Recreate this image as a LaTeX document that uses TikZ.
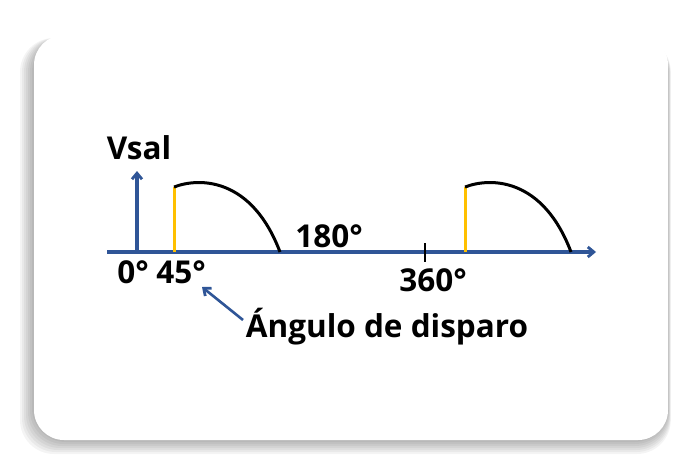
\documentclass[tikz,border=0pt]{standalone}
\usepackage{fontspec}
\setmainfont{Open Sans}
\usetikzlibrary{arrows.meta}
\definecolor{axblue}{HTML}{2F5597}
\definecolor{trig}{HTML}{FFC000}
\tikzset{
  axis/.style={draw=axblue, line width=3.4pt},
  hump/.style={draw=black, line width=3pt},
  trigline/.style={draw=trig, line width=3pt},
  lbl/.style={font=\fontsize{31.5}{34}\selectfont\bfseries, inner sep=0pt},
  tip/.style={-{Straight Barb[length=6pt,width=10pt,line width=2.8pt]}}
}
\begin{document}
\begin{tikzpicture}[x=1pt,y=-1pt]
\useasboundingbox (0,0) rectangle (700,474);
\fill[white] (0,0) rectangle (700,474);
% shadow of card
\foreach \i in {14,12,...,2}{
  \fill[black, opacity=0.045, rounded corners=34pt] (34-\i,38) rectangle (668+\i*0.2,440+\i);
}
\fill[white, rounded corners=30pt] (34,35) rectangle (668,440);
% axes
\coordinate (xa) at (107,252);
\coordinate (xb) at (596,252);
\coordinate (ya) at (137,253);
\coordinate (yb) at (137,171);
\draw[axis, tip] (xa) -- (xb);
\draw[axis, tip] (ya) -- (yb);
% tick at 360
\coordinate (t1) at (425,243);
\coordinate (t2) at (425,262);
\draw[line width=2.6pt] (t1) -- (t2);
% first hump
\coordinate (a0) at (174,252);
\coordinate (a1) at (174,187);
\coordinate (a2) at (280,252);
\draw[trigline] (a0) -- (a1);
\draw[hump] (a1) .. controls (200,177) and (252,178) .. (a2);
% second hump
\coordinate (b0) at (465,252);
\coordinate (b1) at (465,187);
\coordinate (b2) at (571,252);
\draw[trigline] (b0) -- (b1);
\draw[hump] (b1) .. controls (491,177) and (543,178) .. (b2);
% labels
\node[lbl] (vsal) at (139,148) {Vsal};
\node[lbl] (l0) at (133,272) {0°};
\node[lbl] (l45) at (181,272) {45°};
\node[lbl] (l180) at (329,236) {180°};
\node[lbl] (l360) at (433,280) {360°};
\node[lbl] (ang) at (387,327) {Ángulo de disparo};
\coordinate (arrS) at (243,320);
\coordinate (arrE) at (202,287);
\draw[axblue, line width=2.6pt, tip] (arrS) -- (arrE);
\end{tikzpicture}
\end{document}
